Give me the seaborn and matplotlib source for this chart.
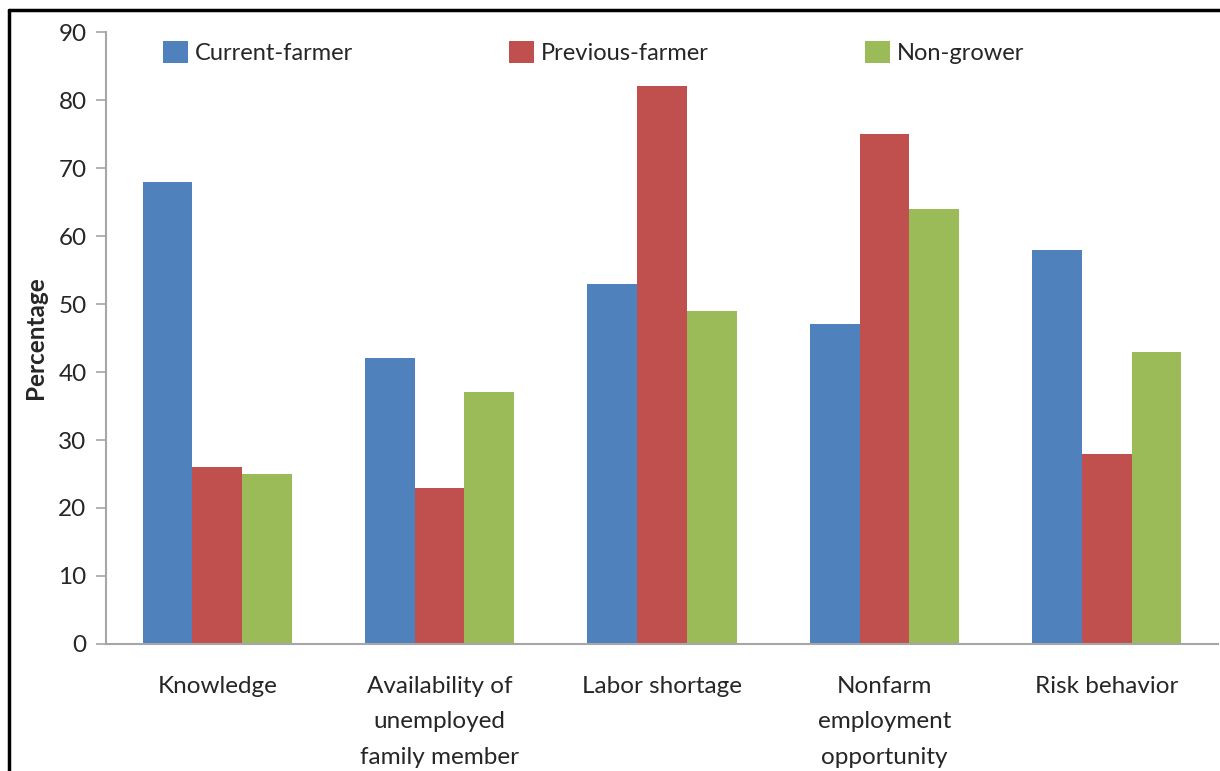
import pandas as pd
import matplotlib.pyplot as plt
import seaborn as sns
from matplotlib.lines import Line2D

categories = ["Knowledge", "Availability of\nunemployed\nfamily member", "Labor shortage",
              "Nonfarm\nemployment\nopportunity", "Risk behavior"]
groups = ["Current-farmer", "Previous-farmer", "Non-grower"]
current_farmer = [68, 42, 53, 47, 58]
previous_farmer = [26, 23, 82, 75, 28]
non_grower = [25, 37, 49, 64, 43]
colors = ["#4F81BD", "#C0504D", "#9BBB59"]

df = pd.DataFrame({
    "category": categories * 3,
    "group": [groups[0]] * 5 + [groups[1]] * 5 + [groups[2]] * 5,
    "value": current_farmer + previous_farmer + non_grower,
})

sns.set_style("white")
plt.rcParams["font.family"] = ["Lato", "DejaVu Sans"]

fig = plt.figure(figsize=(12.2, 7.71), dpi=100)
ax = fig.add_axes([106 / 1220, 1 - 644 / 771, 1112 / 1220, 612 / 771])

sns.barplot(data=df, x="category", y="value", hue="group", palette=colors,
            width=0.67, gap=0, saturation=1, ax=ax, linewidth=0)

ax.set_xlim(-0.5, 4.5)
ax.set_ylim(0, 90)
ax.set_yticks(range(0, 91, 10))
ax.set_xlabel("")
ax.set_ylabel("Percentage", fontsize=17.5, fontweight="bold")
ax.yaxis.set_label_coords(-0.053, 0.5)

for s in ["top", "right"]:
    ax.spines[s].set_visible(False)
for s in ["left", "bottom"]:
    ax.spines[s].set_color("#a6a6a6")
    ax.spines[s].set_linewidth(1.5)

ax.tick_params(axis="y", direction="out", length=7, width=1.2, color="#a6a6a6",
               pad=7, labelsize=17.5, left=True)
ax.tick_params(axis="x", length=0, pad=23, labelsize=17.5)
for lab in ax.get_xticklabels():
    lab.set_linespacing(1.85)

ax.legend(loc="upper left", bbox_to_anchor=(0.043, 1.0), ncol=3, frameon=False,
          fontsize=17, handlelength=1.05, handleheight=1.05, handletextpad=0.3,
          columnspacing=6.6, borderaxespad=0.0)

# outer frame (left and top edges)
fig.add_artist(Line2D([9 / 1220, 9 / 1220], [0, 1 - 10 / 771], transform=fig.transFigure,
                      color="black", lw=2.5))
fig.add_artist(Line2D([9 / 1220, 1], [1 - 10 / 771, 1 - 10 / 771], transform=fig.transFigure,
                      color="black", lw=2.5))

fig.savefig("out.png", dpi=100)
